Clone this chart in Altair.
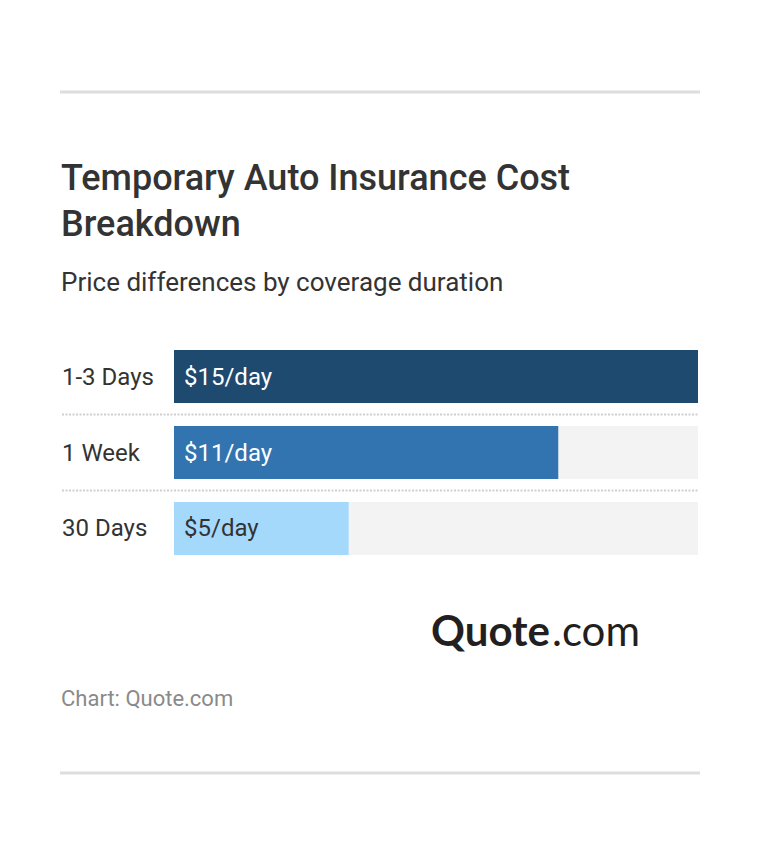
import altair as alt
import pandas as pd

# ---- data ----
categories = ["1-3 Days", "1 Week", "30 Days"]
values = [15, 11, 5]
labels = ["$15/day", "$11/day", "$5/day"]

bar_colors = ["#1f4a6f", "#3174b0", "#a4d9fc"]

df = pd.DataFrame({"cat": categories, "value": values, "label": labels})

W, H = 744, 838
FONT = "Roboto"

xscale = alt.Scale(domain=[0, 15], range=[166, 690], nice=False, zero=True)
yscale = alt.Scale(domain=categories, range=[342, 547], paddingInner=0.3026, paddingOuter=0)

base = alt.Chart(df).transform_calculate(zero="0")

bg = base.mark_bar(color="#f3f3f3").transform_joinaggregate(
    vmax="max(value)"
).encode(
    x=alt.X("zero:Q", scale=xscale, axis=None),
    x2="vmax:Q",
    y=alt.Y("cat:N", scale=yscale, axis=None),
)

bars = base.mark_bar().encode(
    x=alt.X("zero:Q", scale=xscale, axis=None),
    x2="value:Q",
    y=alt.Y("cat:N", scale=yscale, axis=None),
    color=alt.Color("cat:N", scale=alt.Scale(domain=categories, range=bar_colors), legend=None),
)

vlabels = base.mark_text(align="left", baseline="middle", dx=10, dy=1, font=FONT, fontSize=24).encode(
    x=alt.X("zero:Q", scale=xscale, axis=None),
    y=alt.Y("cat:N", scale=yscale, axis=None),
    text="label:N",
    color=alt.condition(alt.datum.cat == categories[2], alt.value("#333333"), alt.value("#ffffff")),
)

catlabels = base.mark_text(align="left", baseline="middle", dy=1, font=FONT, fontSize=24, color="#333333").encode(
    x=alt.value(54),
    y=alt.Y("cat:N", scale=yscale, axis=None),
    text="cat:N",
)

seps = base.transform_filter(
    alt.datum.cat != categories[0]
).mark_rule(color="#cfcfcf", strokeDash=[2, 1.5], strokeWidth=2, yOffset=-11.5).encode(
    x=alt.value(54),
    x2=alt.value(690),
    y=alt.Y("cat:N", scale=yscale, axis=None, bandPosition=0),
)

one = alt.Chart(pd.DataFrame({"a": [0]}))

top_rule = one.mark_rule(color="#dddddd", strokeWidth=3).encode(
    x=alt.value(52), x2=alt.value(692), y=alt.value(84)
)
bottom_rule = one.mark_rule(color="#dddddd", strokeWidth=3).encode(
    x=alt.value(52), x2=alt.value(692), y=alt.value(765)
)

title = one.mark_text(align="left", baseline="alphabetic", font=FONT, fontSize=36, fontWeight=500,
                      color="#333333", lineHeight=46).encode(
    x=alt.value(53), y=alt.value(182),
    text=alt.value(["Temporary Auto Insurance Cost", "Breakdown"]),
)
subtitle = one.mark_text(align="left", baseline="alphabetic", font=FONT, fontSize=26,
                         color="#333333").encode(
    x=alt.value(53), y=alt.value(283),
    text=alt.value("Price differences by coverage duration"),
)
logo1 = one.mark_text(align="right", baseline="alphabetic", font="Lato", fontSize=42, fontWeight="bold",
                      color="#231f20").encode(
    x=alt.value(542), y=alt.value(638), text=alt.value("Quote"),
)
logo2 = one.mark_text(align="left", baseline="alphabetic", font="Lato", fontSize=42, fontWeight="normal",
                      color="#231f20").encode(
    x=alt.value(544), y=alt.value(638), text=alt.value(".com"),
)
footer = one.mark_text(align="left", baseline="alphabetic", font=FONT, fontSize=22,
                       color="#8a8a8a").encode(
    x=alt.value(53), y=alt.value(698), text=alt.value("Chart: Quote.com"),
)

chart = alt.layer(
    top_rule, title, subtitle, bg, bars, vlabels, catlabels, seps, logo1, logo2, footer, bottom_rule
).properties(
    width=W, height=H, padding=0, autosize=alt.AutoSizeParams(type="none"), background="#ffffff"
).configure_view(stroke=None)

chart.save("out.html", embed_options={"renderer": "svg", "actions": False})
